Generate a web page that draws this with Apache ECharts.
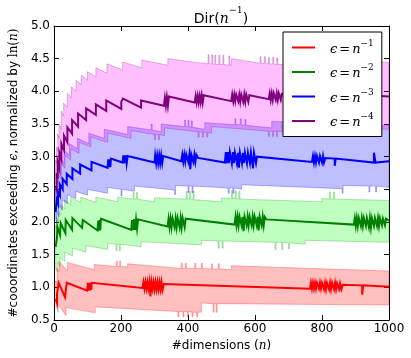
<!DOCTYPE html>
<html>
<head>
<meta charset="utf-8">
<script src="https://cdn.jsdelivr.net/npm/echarts@6/dist/echarts.min.js"></script>
<style>
html, body { margin: 0; padding: 0; background: #fff; }
#chart { width: 411px; height: 358px; }
</style>
</head>
<body>
<div id="chart"></div>
<script>
// axis ticks
var xTicks = [0, 200, 400, 600, 800, 1000];
var yTicks = [0.5, 1.0, 1.5, 2.0, 2.5, 3.0, 3.5, 4.0, 4.5, 5.0];

// legend
var seriesNames = ['eps1', 'eps2', 'eps3', 'eps4'];
var legendExp = ['\u22121', '\u22122', '\u22123', '\u22124'];

// epsilon = n^-1  (median line, band top, band bottom)
var redMid = [[5,0.82],[9,0.76],[9,0.9],[12,1.0],[14,1.07],[33,0.85],[38,0.86],[38,1.07],[99,0.95],
  [101,1.07],[103,0.95],[105,1.07],[107,0.95],[109,1.07],[111,0.96],[113,1.07],[264,0.99],
  [267,1.08],[270,0.98],[273,1.08],[276,0.98],[279,1.08],[282,0.98],[285,1.08],[288,0.86],[291,1.08],[294,0.98],[297,1.08],
  [300,0.97],[303,1.08],[306,0.97],[309,1.08],[312,0.97],[315,1.08],[318,0.97],[321,1.08],[324,0.96],[328,1.05],[764,0.98],
  [767,1.07],[770,0.98],[773,1.07],[776,0.98],[779,1.07],[782,0.98],[785,1.07],[791,0.98],[794,1.07],[797,0.98],[800,1.07],
  [806,0.97],[809,1.07],[812,0.97],[815,1.07],[821,0.97],[824,1.07],[827,0.97],[830,1.07],[836,0.97],[839,1.07],[842,0.97],
  [845,1.06],[851,0.97],[854,1.06],[858,0.97],[862,1.04],[920,1.03],[920,0.89],[923,0.89],[923,1.03],[1000,1.01]];
var redHi = [[5,1.1],[9,1.05],[9,1.3],[15,1.24],[15,1.4],[40,1.25],[40,1.38],[120,1.27],[120,1.35],
  [186,1.32],[186,1.4],[189,1.4],[189,1.32],[196,1.32],[196,1.4],[199,1.4],[199,1.32],[220,1.31],[220,1.36],
  [380,1.29],[380,1.37],[383,1.37],[383,1.29],[392,1.29],[392,1.37],[395,1.37],[395,1.29],
  [420,1.29],[420,1.37],[423,1.37],[423,1.29],[440,1.29],[440,1.37],[443,1.37],[443,1.29],
  [470,1.28],[470,1.36],[473,1.36],[473,1.28],[490,1.28],[490,1.36],[493,1.36],[493,1.28],[530,1.27],[530,1.33],[1000,1.25]];
var redLo = [[5,0.75],[12,0.62],[12,0.74],[36,0.57],[36,0.69],[123,0.61],[123,0.7],
  [370,0.63],[370,0.55],[373,0.55],[373,0.63],[385,0.63],[385,0.55],[388,0.55],[388,0.63],
  [398,0.63],[398,0.55],[401,0.55],[401,0.63],[412,0.62],[412,0.55],[415,0.55],[415,0.62],
  [426,0.62],[426,0.55],[429,0.55],[429,0.62],[440,0.62],[440,0.76],
  [475,0.75],[475,0.62],[478,0.62],[478,0.75],[484,0.75],[484,0.62],[487,0.62],[487,0.75],[1000,0.73]];

// epsilon = n^-2
var greenMid = [[5,1.62],[9,1.6],[9,1.76],[10,1.93],[18,1.8],[20,1.98],[34,1.83],[35,2.03],[54,1.88],[55,2.06],[84,1.91],[86,2.03],[130,1.87],
  [132,2.02],[134,1.87],[136,2.03],[138,1.87],[140,2.05],[231,1.88],
  [233,2.03],[236,1.88],[239,2.04],[242,1.88],[245,2.04],[248,1.9],[251,2.04],[339,1.93],
  [342,2.05],[345,1.92],[348,2.05],[351,1.92],[354,2.05],[360,1.92],[363,2.05],[366,1.92],[369,2.06],[375,1.92],[378,2.06],
  [381,1.92],[384,2.06],[390,1.92],[393,2.05],[397,2.04],[539,1.96],
  [542,2.08],[545,1.95],[548,2.08],[551,1.95],[554,2.08],[560,1.95],[563,2.08],[566,1.86],[569,2.08],[575,1.95],[578,2.08],
  [581,1.95],[584,2.08],[590,1.95],[593,2.08],[596,1.95],[599,2.08],[605,1.95],[608,2.08],[611,1.87],[614,2.08],[620,1.95],
  [623,2.08],[626,1.95],[629,2.08],[634,2.04],[895,1.96],
  [898,2.06],[901,1.94],[904,2.06],[907,1.94],[910,2.06],[916,1.94],[919,2.06],[922,1.94],[925,2.06],[931,1.94],[934,2.06],
  [940,1.92],[943,2.06],[946,1.92],[949,2.06],[955,1.94],[958,2.06],[964,1.94],[967,2.06],[970,1.94],[973,2.06],[979,1.95],
  [982,2.05],[988,1.95],[991,2.05],[995,2.03],[1000,2.02]];
var greenHi = [[5,1.95],[8,1.9],[8,2.08],[13,2.0],[13,2.18],[20,2.1],[20,2.27],[32,2.2],[32,2.34],[50,2.26],[50,2.38],[80,2.3],[80,2.38],
  [125,2.3],[125,2.38],[190,2.31],[190,2.38],[236,2.35],[236,2.45],[239,2.45],[239,2.35],[246,2.35],[246,2.45],[249,2.45],[249,2.35],
  [300,2.31],[300,2.37],[395,2.35],[395,2.47],[398,2.47],[398,2.35],[405,2.35],[405,2.47],[408,2.47],[408,2.35],
  [415,2.34],[415,2.47],[418,2.47],[418,2.34],[500,2.31],[500,2.37],
  [530,2.36],[530,2.48],[533,2.48],[533,2.36],[541,2.36],[541,2.48],[544,2.48],[544,2.36],[552,2.35],[552,2.47],[555,2.47],[555,2.35],
  [800,2.31],[800,2.36],[822,2.35],[822,2.46],[825,2.46],[825,2.35],[834,2.35],[834,2.46],[837,2.46],[837,2.35],[1000,2.33]];
var greenLo = [[5,1.28],[10,1.24],[10,1.38],[18,1.32],[18,1.46],[32,1.4],[32,1.54],[55,1.48],[55,1.6],[95,1.54],[95,1.64],
  [160,1.58],[160,1.68],[185,1.66],[185,1.56],[188,1.56],[188,1.66],[195,1.66],[195,1.56],[198,1.56],[198,1.66],[260,1.62],[260,1.7],
  [440,1.65],[440,1.72],[490,1.71],[490,1.6],[493,1.6],[493,1.71],[502,1.71],[502,1.6],[505,1.6],[505,1.71],
  [660,1.69],[660,1.58],[663,1.58],[663,1.69],[680,1.69],[680,1.58],[683,1.58],[683,1.69],[700,1.68],[700,1.59],[703,1.59],[703,1.68],
  [750,1.66],[750,1.72],[1000,1.69]];

// epsilon = n^-3
var blueMid = [[5,2.15],[8,2.12],[8,2.34],[12,2.28],[12,2.46],[18,2.4],[18,2.57],[26,2.5],[26,2.66],[38,2.58],[38,2.74],[55,2.66],[55,2.82],
  [78,2.74],[78,2.88],[112,2.79],[112,2.92],[160,2.83],
  [162,2.96],[164,2.84],[166,2.96],[168,2.84],[170,2.97],[172,2.97],[205,2.91],
  [207,3.02],[209,2.9],[211,3.02],[213,2.9],[215,3.02],[217,2.9],[220,3.01],[300,2.91],
  [302,3.02],[305,2.9],[308,3.02],[311,2.9],[314,3.02],[317,2.9],[320,3.02],[323,2.9],[326,3.01],[330,3.0],[380,2.93],
  [383,3.03],[386,2.92],[389,3.03],[392,2.92],[395,3.03],[401,2.92],[404,3.03],[407,2.81],[410,3.03],[416,2.92],[419,3.03],
  [422,2.92],[425,3.03],[430,2.98],[510,2.91],
  [513,3.07],[516,2.9],[519,3.07],[522,2.9],[525,3.07],[531,2.9],[534,3.07],[537,2.9],[540,3.06],[546,2.9],[549,3.06],
  [552,2.83],[555,3.06],[561,2.9],[564,3.06],[567,2.9],[570,3.06],[576,2.9],[579,3.06],[585,2.9],[588,3.06],[594,2.82],
  [597,3.06],[603,2.9],[606,3.0],[610,3.0],[770,2.92],
  [773,3.01],[776,2.91],[779,3.01],[782,2.91],[785,3.01],[791,2.91],[794,3.01],[800,2.91],[803,3.01],[806,2.91],[810,2.98],
  [838,2.97],[838,2.86],[841,2.86],[841,2.97],[955,2.91],[955,3.06],[960,3.06],[960,2.91],[1000,2.93]];
var blueHi = [[5,2.5],[8,2.43],[8,2.66],[13,2.58],[13,2.82],[20,2.74],[20,2.98],[30,2.9],[30,3.1],[46,3.02],[46,3.2],[70,3.12],[70,3.28],
  [104,3.2],[104,3.36],[150,3.28],[150,3.42],[220,3.34],[220,3.46],[290,3.41],[290,3.5],[293,3.5],[293,3.41],[320,3.38],[320,3.5],
  [390,3.46],[390,3.56],[393,3.56],[393,3.46],[400,3.46],[400,3.56],[403,3.56],[403,3.46],[410,3.45],[410,3.55],[413,3.55],[413,3.45],
  [450,3.42],[450,3.52],[540,3.49],[540,3.58],[543,3.58],[543,3.49],[556,3.49],[556,3.58],[559,3.58],[559,3.49],
  [570,3.48],[570,3.57],[573,3.57],[573,3.48],[650,3.44],[650,3.54],
  [870,3.5],[870,3.58],[873,3.58],[873,3.5],[886,3.5],[886,3.58],[889,3.58],[889,3.5],[900,3.49],[900,3.57],[903,3.57],[903,3.49],[1000,3.48]];
var blueLo = [[5,2.05],[9,1.98],[9,2.15],[15,2.08],[15,2.25],[25,2.18],[25,2.34],[40,2.28],[40,2.42],[65,2.36],[65,2.47],[100,2.41],[100,2.5],
  [160,2.44],[160,2.53],[200,2.5],[200,2.4],[203,2.4],[203,2.5],[240,2.47],[240,2.55],
  [360,2.49],[360,2.42],[363,2.42],[363,2.56],[400,2.55],[400,2.45],[403,2.45],[403,2.55],[412,2.55],[412,2.45],[415,2.45],[415,2.55],
  [520,2.52],[520,2.44],[523,2.44],[523,2.52],[534,2.52],[534,2.44],[537,2.44],[537,2.52],[560,2.5],[560,2.57],
  [860,2.51],[860,2.44],[863,2.44],[863,2.56],[940,2.55],[940,2.46],[943,2.46],[943,2.55],[960,2.55],[960,2.46],[963,2.46],[963,2.55],[1000,2.53]];

// epsilon = n^-4
var purpleMid = [[5,2.55],[8,2.5],[8,2.75],[11,2.66],[11,2.92],[16,2.82],[16,3.06],[22,2.96],[22,3.2],[30,3.1],[30,3.32],[40,3.22],[40,3.45],
  [54,3.35],[54,3.56],[72,3.46],[72,3.66],[96,3.56],[96,3.74],[125,3.64],[125,3.8],[156,3.7],[156,3.86],[201,3.73],[201,3.84],[206,3.89],
  [260,3.75],[260,3.86],[265,3.89],[328,3.78],
  [331,3.9],[334,3.78],[337,3.91],[340,3.78],[343,3.92],[348,3.92],[420,3.83],
  [423,3.93],[426,3.83],[429,3.93],[432,3.83],[435,3.93],[438,3.83],[441,3.94],[444,3.83],[447,3.94],[450,3.94],[529,3.85],
  [532,3.95],[535,3.85],[538,3.95],[541,3.85],[544,3.95],[550,3.85],[553,3.95],[556,3.84],[559,3.95],[565,3.84],[568,3.95],
  [571,3.84],[574,3.95],[580,3.84],[583,3.94],[587,3.93],[641,3.88],
  [644,3.97],[647,3.87],[650,3.97],[653,3.87],[656,3.97],[662,3.87],[665,3.97],[668,3.87],[671,3.97],[677,3.87],[680,3.96],
  [685,3.96],[830,3.88],[830,3.97],[1000,3.92]];
var purpleHi = [[5,2.95],[8,2.9],[8,3.15],[11,3.08],[11,3.35],[15,3.28],[15,3.5],[22,3.42],[22,3.7],[29,3.62],[29,3.82],[40,3.76],[40,3.97],
  [52,3.9],[52,4.07],[66,4.0],[66,4.17],[82,4.1],[82,4.25],[100,4.17],[100,4.3],[125,4.22],[125,4.36],[158,4.28],[158,4.42],
  [205,4.33],[205,4.45],[262,4.36],[262,4.48],[340,4.4],[340,4.5],[460,4.42],
  [460,4.56],[463,4.56],[463,4.42],[471,4.42],[471,4.56],[474,4.56],[474,4.42],[480,4.41],[480,4.55],[483,4.55],[483,4.41],
  [492,4.41],[492,4.55],[495,4.55],[495,4.41],[504,4.41],[504,4.55],[507,4.55],[507,4.41],[522,4.4],[522,4.54],[525,4.54],[525,4.4],
  [530,4.4],[530,4.5],[615,4.43],
  [615,4.53],[618,4.53],[618,4.43],[628,4.43],[628,4.53],[631,4.53],[631,4.43],[640,4.42],[640,4.52],[643,4.52],[643,4.42],
  [653,4.42],[653,4.52],[656,4.52],[656,4.42],[665,4.41],[665,4.51],[668,4.51],[668,4.41],
  [685,4.41],[685,4.49],[900,4.41],[900,4.49],[1000,4.44]];
var purpleLo = [[5,2.4],[8,2.33],[8,2.55],[14,2.48],[14,2.72],[22,2.65],[22,2.9],[33,2.82],[33,3.02],[50,2.95],[50,3.12],[75,3.05],[75,3.22],
  [110,3.15],[110,3.3],[160,3.22],[160,3.36],[230,3.28],[230,3.4],[300,3.34],[300,3.26],[303,3.26],[303,3.34],
  [312,3.34],[312,3.26],[315,3.26],[315,3.34],[330,3.32],[330,3.44],
  [430,3.38],[430,3.3],[433,3.3],[433,3.38],[443,3.38],[443,3.3],[446,3.3],[446,3.38],[456,3.37],[456,3.3],[459,3.3],[459,3.37],[470,3.36],[470,3.46],
  [640,3.39],[640,3.31],[643,3.31],[643,3.39],[652,3.39],[652,3.31],[655,3.31],[655,3.39],[664,3.39],[664,3.31],[667,3.31],[667,3.39],
  [680,3.38],[680,3.48],[1000,3.42]];

var FONT = 'DejaVu Sans';
var MATH = 'DejaVu Serif';

function bandSeries(name, hi, lo, fill, edge) {
    return {
        name: name,
        type: 'custom',
        silent: true,
        z: 1,
        clip: true,
        data: [[500, 2.5]],
        renderItem: function (params, api) {
            var pts = [];
            hi.forEach(function (p) { pts.push(api.coord(p)); });
            for (var i = lo.length - 1; i >= 0; i--) {
                pts.push(api.coord(lo[i]));
            }
            return {
                type: 'polygon',
                shape: { points: pts },
                style: { fill: fill, stroke: edge, lineWidth: 0.8 }
            };
        }
    };
}

function lineSeries(name, pts, color) {
    return {
        name: name,
        type: 'line',
        data: pts,
        symbol: 'none',
        showSymbol: false,
        z: 3,
        lineStyle: { color: color, width: 2, join: 'miter' },
        itemStyle: { color: color }
    };
}

function mathRich(size) {
    return {
        i: { fontFamily: MATH, fontStyle: 'italic', fontSize: size, color: '#000' },
        m: { fontFamily: MATH, fontSize: size, color: '#000' }
    };
}

var titleRich = {
    a: { fontFamily: FONT, fontWeight: 'normal', fontSize: 14, color: '#000', lineHeight: 20, verticalAlign: 'bottom' },
    i: { fontFamily: MATH, fontWeight: 'normal', fontStyle: 'italic', fontSize: 14, color: '#000', lineHeight: 20, verticalAlign: 'bottom' },
    s: { fontFamily: MATH, fontWeight: 'normal', fontSize: 9.5, color: '#000', lineHeight: 12, verticalAlign: 'top' }
};

var legendRich = {
    e: { fontFamily: MATH, fontStyle: 'italic', fontSize: 13, color: '#000', padding: [0, 0, 0, 10], lineHeight: 17, verticalAlign: 'bottom' },
    q: { fontFamily: MATH, fontSize: 13, color: '#000', padding: [0, 2, 0, 2], lineHeight: 17, verticalAlign: 'bottom' },
    n: { fontFamily: MATH, fontStyle: 'italic', fontSize: 13, color: '#000', lineHeight: 17, verticalAlign: 'bottom' },
    s: { fontFamily: MATH, fontSize: 9, color: '#000', lineHeight: 11, verticalAlign: 'top' }
};

function axisCommon(extra) {
    var base = {
        type: 'value',
        axisLine: { show: true, onZero: false, lineStyle: { color: '#000', width: 1 } },
        axisTick: { show: true, inside: true, length: 5, lineStyle: { color: '#000', width: 1 } },
        splitLine: { show: false }
    };
    for (var k in extra) base[k] = extra[k];
    return base;
}

var chart = echarts.init(document.getElementById('chart'), null, { renderer: 'canvas' });

chart.setOption({
    animation: false,
    backgroundColor: '#fff',
    textStyle: { fontFamily: FONT },
    title: {
        text: '{a|Dir(}{i|n}{s|' + legendExp[0] + '}{a|)}',
        left: 216,
        top: 1,
        textAlign: 'center',
        textStyle: { fontWeight: 'normal', rich: titleRich }
    },
    grid: { left: 48, right: 22, top: 26, bottom: 38, containLabel: false },
    legend: {
        data: seriesNames,
        orient: 'vertical',
        left: 283,
        top: 32,
        padding: [7, 8, 7, 9],
        itemGap: 7.5,
        itemWidth: 23,
        itemHeight: 2,
        icon: 'rect',
        selectedMode: false,
        backgroundColor: '#fff',
        borderColor: '#000',
        borderWidth: 1,
        borderRadius: 0,
        formatter: function (name) {
            var i = seriesNames.indexOf(name);
            return '{e|\u03f5}{q|=}{n|n}{s|' + legendExp[i] + '}';
        },
        textStyle: { rich: legendRich }
    },
    xAxis: [
        axisCommon({
            position: 'bottom',
            min: xTicks[0],
            max: xTicks[xTicks.length - 1],
            interval: xTicks[1] - xTicks[0],
            axisLabel: {
                color: '#000', fontFamily: FONT, fontSize: 12, margin: 3,
                formatter: function (v) { return String(v); }
            },
            name: '#dimensions ({i|n})',
            nameLocation: 'middle',
            nameGap: 17,
            nameTextStyle: { color: '#000', fontFamily: FONT, fontSize: 12, rich: mathRich(12) }
        }),
        axisCommon({
            position: 'top',
            min: xTicks[0],
            max: xTicks[xTicks.length - 1],
            interval: xTicks[1] - xTicks[0],
            axisLabel: { show: false }
        })
    ],
    yAxis: [
        axisCommon({
            position: 'left',
            min: yTicks[0],
            max: yTicks[yTicks.length - 1],
            interval: yTicks[1] - yTicks[0],
            axisLabel: {
                color: '#000', fontFamily: FONT, fontSize: 12, margin: 4,
                formatter: function (v) { return v.toFixed(1); }
            },
            name: '#cooordinates exceeding {i|\u03f5}, normalized by {m|ln(}{i|n}{m|)}',
            nameLocation: 'middle',
            nameRotate: 90,
            nameGap: 28,
            nameTextStyle: { color: '#000', fontFamily: FONT, fontSize: 12, rich: mathRich(12) }
        }),
        axisCommon({
            position: 'right',
            min: yTicks[0],
            max: yTicks[yTicks.length - 1],
            interval: yTicks[1] - yTicks[0],
            axisLabel: { show: false }
        })
    ],
    series: [
        bandSeries('bandR', redHi, redLo, 'rgba(255,0,0,0.25)', 'rgba(255,0,0,0.35)'),
        bandSeries('bandG', greenHi, greenLo, 'rgba(0,255,0,0.25)', 'rgba(0,150,0,0.35)'),
        bandSeries('bandB', blueHi, blueLo, 'rgba(0,0,255,0.25)', 'rgba(0,0,255,0.35)'),
        bandSeries('bandP', purpleHi, purpleLo, 'rgba(255,0,255,0.25)', 'rgba(150,0,150,0.35)'),
        lineSeries(seriesNames[0], redMid, '#ff0000'),
        lineSeries(seriesNames[1], greenMid, '#008000'),
        lineSeries(seriesNames[2], blueMid, '#0000ff'),
        lineSeries(seriesNames[3], purpleMid, '#800080')
    ]
});
</script>
</body>
</html>
